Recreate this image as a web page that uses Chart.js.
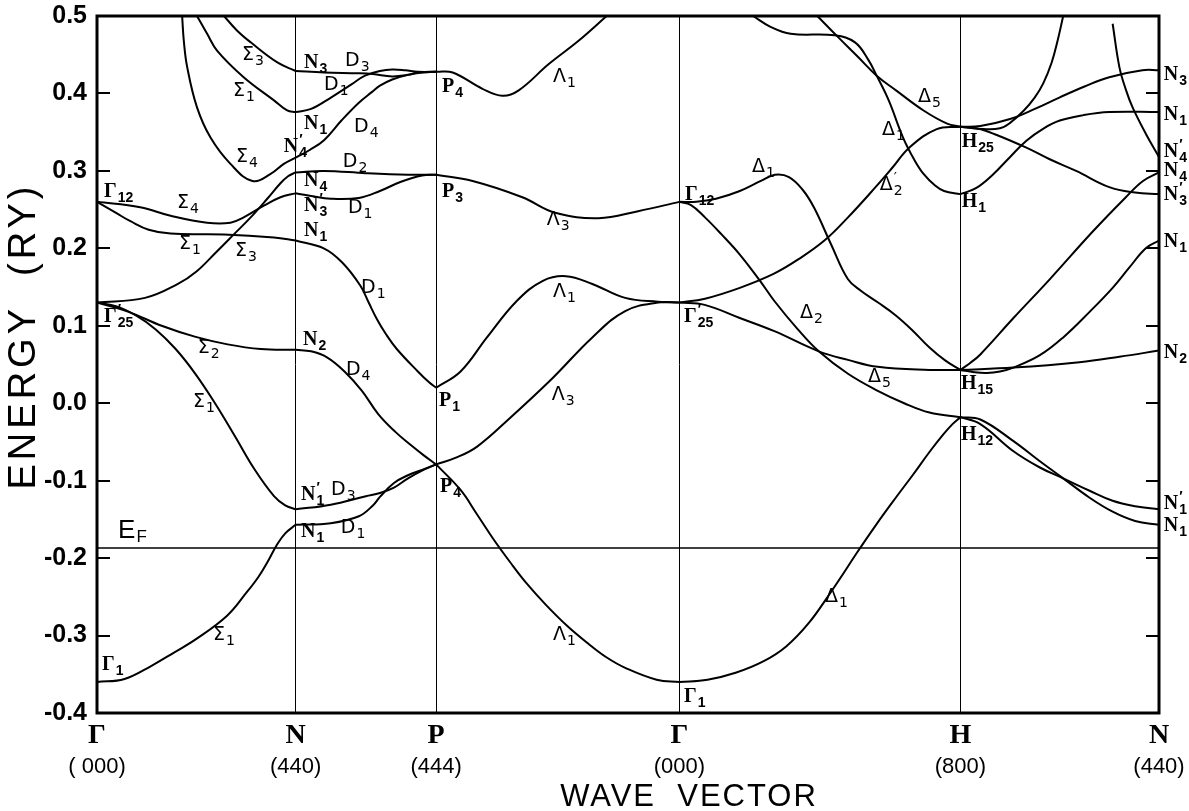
<!DOCTYPE html>
<html>
<head>
<meta charset="utf-8">
<script src="https://cdn.jsdelivr.net/npm/chart.js@4.4.1/dist/chart.umd.min.js"></script>
<style>
  html, body { margin: 0; padding: 0; background: #fff; }
</style>
</head>
<body>
<canvas id="bandChart" width="1189" height="811"></canvas>
<script>
// path through the zone: Γ - N - P - Γ - H - N
const symK = [0, 0.707, 1.207, 2.073, 3.073, 3.78];
const symNames = ['Γ', 'N', 'P', 'Γ', 'H', 'N'];
const symCoords = ['( 000)', '(440)', '(444)', '(000)', '(800)', '(440)'];
const energyTicks = [-0.4, -0.3, -0.2, -0.1, 0.0, 0.1, 0.2, 0.3, 0.4, 0.5];
const fermiEnergy = -0.187;

// Γ -> N  (Σ)
const gnSigma1Low = [[0,-0.36],[0.098,-0.356],[0.194,-0.339],[0.274,-0.322],[0.355,-0.304],[0.464,-0.274],[0.531,-0.245],[0.575,-0.224],[0.61,-0.203],[0.64,-0.183],[0.67,-0.168],[0.707,-0.157]];
const gnSigma1Mid = [[0,0.13],[0.07,0.125],[0.14,0.113],[0.21,0.095],[0.28,0.07],[0.35,0.038],[0.42,0.0],[0.49,-0.042],[0.56,-0.085],[0.63,-0.12],[0.67,-0.132],[0.707,-0.137]];
const gnSigma2 = [[0,0.13],[0.112,0.118],[0.23,0.1],[0.348,0.086],[0.465,0.076],[0.583,0.07],[0.707,0.069]];
const gnSigma3Low = [[0,0.13],[0.171,0.136],[0.288,0.154],[0.354,0.17],[0.424,0.195],[0.487,0.218],[0.547,0.24],[0.606,0.264],[0.653,0.284],[0.68,0.293],[0.707,0.298]];
const gnSigma4Low = [[0,0.26],[0.154,0.253],[0.262,0.242],[0.392,0.233],[0.475,0.233],[0.522,0.24],[0.594,0.255],[0.653,0.266],[0.707,0.271]];
const gnSigma1Flat = [[0,0.26],[0.071,0.245],[0.119,0.235],[0.184,0.224],[0.262,0.219],[0.452,0.218],[0.63,0.214],[0.707,0.21]];
const gnSigma4High = [[0.303,0.5],[0.309,0.468],[0.321,0.434],[0.356,0.382],[0.404,0.343],[0.475,0.309],[0.553,0.287],[0.618,0.296],[0.665,0.309],[0.707,0.317]];
const gnSigma1High = [[0.356,0.5],[0.392,0.477],[0.428,0.455],[0.522,0.421],[0.63,0.391],[0.677,0.378],[0.707,0.376]];
const gnSigma3High = [[0.452,0.5],[0.499,0.481],[0.547,0.466],[0.642,0.44],[0.707,0.429]];

// N -> P  (D)
const npD3Low = [[0.707,-0.137],[0.832,-0.131],[0.957,-0.12],[1.007,-0.116],[1.057,-0.109],[1.107,-0.097],[1.157,-0.087],[1.207,-0.079]];
const npD1Low = [[0.707,-0.157],[0.832,-0.155],[0.932,-0.146],[0.982,-0.132],[1.007,-0.121],[1.057,-0.103],[1.107,-0.093],[1.157,-0.086],[1.207,-0.079]];
const npD4Low = [[0.707,0.069],[0.762,0.067],[0.82,0.059],[0.881,0.041],[0.943,0.016],[1.001,-0.014],[1.062,-0.037],[1.117,-0.054],[1.162,-0.067],[1.207,-0.079]];
const npD1Mid = [[0.707,0.21],[0.807,0.2],[0.872,0.182],[0.937,0.152],[0.967,0.13],[0.997,0.108],[1.027,0.09],[1.067,0.07],[1.142,0.041],[1.182,0.027],[1.207,0.02]];
const npD1Up = [[0.707,0.271],[0.757,0.268],[0.832,0.264],[0.932,0.265],[1.007,0.274],[1.082,0.286],[1.157,0.294],[1.207,0.295]];
const npD2 = [[0.707,0.298],[0.807,0.3],[0.957,0.297],[1.107,0.295],[1.207,0.295]];
const npD4High = [[0.707,0.317],[0.757,0.327],[0.809,0.34],[0.87,0.365],[0.932,0.388],[0.979,0.402],[1.007,0.41],[1.051,0.418],[1.107,0.424],[1.157,0.427],[1.207,0.428]];
const npD1High = [[0.707,0.376],[0.762,0.38],[0.834,0.395],[0.907,0.412],[0.954,0.423],[1.007,0.429],[1.051,0.431],[1.097,0.43],[1.142,0.428],[1.207,0.428]];
const npD3High = [[0.707,0.429],[0.809,0.427],[0.932,0.426],[0.982,0.425],[1.051,0.422],[1.107,0.424],[1.142,0.427],[1.207,0.428]];

// P -> Γ  (Λ)
const pgLambda1Low = [[1.207,-0.079],[1.294,-0.112],[1.35,-0.142],[1.41,-0.175],[1.47,-0.205],[1.53,-0.233],[1.597,-0.26],[1.675,-0.288],[1.747,-0.31],[1.813,-0.328],[1.882,-0.342],[1.992,-0.357],[2.073,-0.36]];
const pgLambda3Low = [[1.207,-0.079],[1.28,-0.07],[1.353,-0.056],[1.47,-0.019],[1.623,0.033],[1.763,0.085],[1.88,0.119],[1.997,0.13],[2.073,0.13]];
const pgLambda1Mid = [[1.207,0.02],[1.294,0.041],[1.388,0.085],[1.494,0.132],[1.587,0.158],[1.669,0.164],[1.763,0.154],[1.88,0.136],[1.997,0.131],[2.073,0.13]];
const pgLambda3High = [[1.207,0.295],[1.337,0.287],[1.514,0.266],[1.631,0.246],[1.785,0.239],[1.926,0.248],[2.073,0.26]];
const pgLambda1High = [[1.207,0.428],[1.266,0.427],[1.372,0.406],[1.443,0.397],[1.501,0.404],[1.608,0.438],[1.714,0.468],[1.814,0.5]];

// Γ -> H  (Δ)
const ghDelta1Low = [[2.073,-0.36],[2.173,-0.357],[2.273,-0.348],[2.373,-0.333],[2.453,-0.314],[2.533,-0.284],[2.61,-0.245],[2.66,-0.218],[2.703,-0.194],[2.773,-0.157],[2.841,-0.123],[2.903,-0.093],[2.963,-0.063],[3.013,-0.04],[3.045,-0.027],[3.073,-0.018]];
const ghDelta2 = [[2.073,0.26],[2.113,0.256],[2.164,0.24],[2.223,0.218],[2.288,0.192],[2.36,0.158],[2.411,0.132],[2.493,0.096],[2.569,0.067],[2.673,0.038],[2.779,0.016],[2.873,0.0],[2.963,-0.012],[3.073,-0.018]];
const ghDelta5Low = [[2.073,0.13],[2.163,0.127],[2.288,0.11],[2.411,0.093],[2.569,0.067],[2.673,0.056],[2.779,0.047],[2.963,0.043],[3.073,0.043]];
const ghDelta1Mid = [[2.073,0.26],[2.133,0.26],[2.203,0.264],[2.288,0.274],[2.363,0.287],[2.413,0.295],[2.463,0.292],[2.513,0.275],[2.553,0.252],[2.613,0.205],[2.673,0.16],[2.72,0.145],[2.78,0.13],[2.841,0.114],[2.9,0.095],[2.963,0.072],[3.02,0.055],[3.073,0.043]];
const ghDelta2p = [[2.073,0.13],[2.164,0.135],[2.288,0.149],[2.408,0.167],[2.493,0.185],[2.589,0.21],[2.673,0.24],[2.771,0.279],[2.833,0.305],[2.891,0.33],[2.989,0.354],[3.073,0.357]];
const ghDelta1High = [[2.335,0.5],[2.397,0.486],[2.469,0.477],[2.626,0.475],[2.698,0.466],[2.746,0.443],[2.775,0.423],[2.818,0.391],[2.869,0.343],[2.908,0.315],[2.942,0.296],[2.983,0.281],[3.015,0.274],[3.073,0.27]];
const ghDelta5High = [[2.564,0.5],[2.637,0.473],[2.709,0.447],[2.775,0.423],[2.844,0.404],[2.942,0.378],[3.026,0.361],[3.073,0.357]];

// H -> N
const hnLowA = [[3.073,-0.018],[3.144,-0.021],[3.262,-0.049],[3.356,-0.075],[3.439,-0.097],[3.533,-0.122],[3.615,-0.14],[3.695,-0.152],[3.78,-0.157]];
const hnLowB = [[3.073,-0.018],[3.144,-0.027],[3.262,-0.062],[3.356,-0.083],[3.439,-0.097],[3.533,-0.113],[3.615,-0.126],[3.695,-0.133],[3.78,-0.137]];
const hnToN2 = [[3.073,0.043],[3.262,0.046],[3.497,0.053],[3.639,0.06],[3.78,0.068]];
const hnToN1 = [[3.073,0.043],[3.122,0.04],[3.167,0.039],[3.214,0.041],[3.262,0.046],[3.356,0.062],[3.439,0.085],[3.533,0.118],[3.615,0.149],[3.674,0.175],[3.733,0.2],[3.78,0.21]];
const hnToN4 = [[3.073,0.043],[3.108,0.052],[3.144,0.063],[3.262,0.11],[3.391,0.16],[3.545,0.222],[3.662,0.266],[3.723,0.287],[3.78,0.298]];
const hnFromH1 = [[3.073,0.27],[3.13,0.278],[3.191,0.296],[3.25,0.318],[3.308,0.339],[3.37,0.355],[3.427,0.365],[3.511,0.372],[3.603,0.376],[3.78,0.376]];
const hnToN3 = [[3.073,0.357],[3.144,0.358],[3.25,0.367],[3.338,0.38],[3.427,0.395],[3.515,0.409],[3.603,0.421],[3.721,0.43],[3.78,0.43]];
const hnToN3p = [[3.073,0.357],[3.13,0.355],[3.191,0.348],[3.308,0.33],[3.391,0.315],[3.485,0.3],[3.603,0.279],[3.695,0.272],[3.78,0.27]];
const hnSteep = [[3.073,0.357],[3.156,0.354],[3.214,0.355],[3.25,0.362],[3.299,0.378],[3.338,0.395],[3.368,0.413],[3.398,0.44],[3.419,0.468],[3.439,0.5]];
const hnToN4p = [[3.615,0.49],[3.639,0.434],[3.662,0.405],[3.686,0.382],[3.733,0.348],[3.78,0.318]];

// [letter, subscript, prime, k, E]
const bandLabels = [
  ['Σ','3',0,0.516,0.443], ['N','3',0,0.737,0.433], ['D','3',0,0.883,0.435],
  ['Σ','1',0,0.484,0.397], ['D','1',0,0.808,0.404], ['N','1',0,0.737,0.354],
  ['D','4',0,0.915,0.350], ['N','4',1,0.665,0.324], ['Σ','4',0,0.495,0.311],
  ['D','2',0,0.875,0.305], ['Γ','12',0,0.025,0.266], ['Σ','4',0,0.285,0.252],
  ['N','4',0,0.737,0.280], ['N','3',1,0.737,0.248], ['D','1',0,0.893,0.245],
  ['N','1',0,0.737,0.216], ['Σ','1',0,0.292,0.199], ['Σ','3',0,0.491,0.190],
  ['D','1',0,0.94,0.142], ['Γ','25',1,0.025,0.105], ['N','2',0,0.733,0.075],
  ['Σ','2',0,0.359,0.065], ['D','4',0,0.886,0.037], ['Σ','1',0,0.342,-0.005],
  ['N','1',1,0.726,-0.125], ['D','3',0,0.833,-0.119], ['N','1',0,0.726,-0.173],
  ['D','1',0,0.868,-0.168], ['Σ','1',0,0.413,-0.306], ['Γ','1',0,0.018,-0.345],
  ['P','4',0,1.228,0.402], ['P','3',0,1.228,0.266], ['P','1',0,1.217,-0.003],
  ['P','4',0,1.221,-0.115],
  ['Λ','1',0,1.623,0.415], ['Λ','3',0,1.601,0.230], ['Λ','1',0,1.623,0.137],
  ['Λ','3',0,1.619,0.004], ['Λ','1',0,1.623,-0.306],
  ['Γ','12',0,2.093,0.262], ['Γ','25',1,2.089,0.105], ['Γ','1',0,2.089,-0.386],
  ['Δ','1',0,2.331,0.298], ['Δ','5',0,2.922,0.389], ['Δ','1',0,2.794,0.346],
  ['Δ','2',1,2.786,0.275], ['Δ','2',0,2.502,0.110], ['Δ','5',0,2.744,0.027],
  ['Δ','1',0,2.591,-0.257],
  ['H','25',0,3.078,0.331], ['H','1',0,3.078,0.253], ['H','15',0,3.075,0.019],
  ['H','12',0,3.075,-0.048],
  ['N','3',0,3.797,0.417], ['N','1',0,3.797,0.366], ['N','4',1,3.797,0.318],
  ['N','4',0,3.797,0.293], ['N','3',1,3.797,0.262], ['N','1',0,3.797,0.202],
  ['N','2',0,3.797,0.059], ['N','1',1,3.797,-0.136], ['N','1',0,3.797,-0.165]
];
const fermiLabel = ['E', 'F', 0.075, -0.174];

const bands = [
  gnSigma1Low, gnSigma1Mid, gnSigma2, gnSigma3Low, gnSigma4Low, gnSigma1Flat, gnSigma4High, gnSigma1High, gnSigma3High,
  npD3Low, npD1Low, npD4Low, npD1Mid, npD1Up, npD2, npD4High, npD1High, npD3High,
  pgLambda1Low, pgLambda3Low, pgLambda1Mid, pgLambda3High, pgLambda1High,
  ghDelta1Low, ghDelta2, ghDelta5Low, ghDelta1Mid, ghDelta2p, ghDelta1High, ghDelta5High,
  hnLowA, hnLowB, hnToN2, hnToN1, hnToN4, hnFromH1, hnToN3, hnToN3p, hnSteep, hnToN4p
];

const datasets = bands.map(b => ({
  data: b,
  showLine: true,
  borderColor: '#000',
  borderWidth: 2,
  pointRadius: 0,
  tension: 0.4
}));
datasets.push({
  data: [[symK[0], fermiEnergy], [symK[symK.length - 1], fermiEnergy]],
  showLine: true,
  borderColor: '#000',
  borderWidth: 1.5,
  pointRadius: 0
});

function drawLabel(ctx, xs, ys, lab) {
  const [main, sub, prime, k, e] = lab;
  const px = xs.getPixelForValue(k);
  const py = ys.getPixelForValue(e);
  const serif = 'NPHΓ'.includes(main);
  ctx.font = serif ? 'bold 20px "Liberation Serif"' : '19px "DejaVu Sans"';
  ctx.fillText(main, px, py);
  const w = ctx.measureText(main).width;
  ctx.font = serif ? 'bold 14px "Liberation Sans"' : '14px "DejaVu Sans"';
  ctx.fillText(sub, px + w + 1, py + 5);
  if (prime) ctx.fillText('\u2032', px + w + 1, py - 8);
}

const decorations = {
  id: 'decorations',
  afterDraw(chart) {
    const { ctx, chartArea: a, scales: { x, y } } = chart;
    ctx.save();
    ctx.strokeStyle = '#000';
    ctx.fillStyle = '#000';

    // short inner ticks on both sides
    ctx.lineWidth = 2;
    energyTicks.forEach(v => {
      const py = Math.round(y.getPixelForValue(v));
      ctx.beginPath();
      ctx.moveTo(a.left, py); ctx.lineTo(a.left + 13, py);
      ctx.moveTo(a.right, py); ctx.lineTo(a.right - 13, py);
      ctx.stroke();
    });

    // frame
    ctx.lineWidth = 3;
    ctx.strokeRect(a.left, a.top, a.right - a.left, a.bottom - a.top);

    // symmetry point labels
    ctx.textAlign = 'center';
    ctx.textBaseline = 'alphabetic';
    symK.forEach((k, i) => {
      const px = x.getPixelForValue(k);
      ctx.font = 'bold 28px "Liberation Serif"';
      ctx.fillText(symNames[i], px, a.bottom + 30);
      ctx.font = '22px "Liberation Sans"';
      ctx.fillText(symCoords[i], px, a.bottom + 60);
    });

    // band labels
    ctx.textAlign = 'left';
    bandLabels.forEach(l => drawLabel(ctx, x, y, l));

    // Fermi level label
    const fx = x.getPixelForValue(fermiLabel[2]);
    const fy = y.getPixelForValue(fermiLabel[3]);
    ctx.font = '26px "Liberation Sans"';
    ctx.fillText(fermiLabel[0], fx, fy);
    const fw = ctx.measureText(fermiLabel[0]).width;
    ctx.font = '17px "Liberation Sans"';
    ctx.fillText(fermiLabel[1], fx + fw + 1, fy + 4);

    // axis titles
    ctx.textAlign = 'center';
    ctx.font = '31px "Liberation Sans"';
    ctx.letterSpacing = '2px';
    ctx.fillText('WAVE  VECTOR', 689, 806);
    ctx.translate(25, 336);
    ctx.rotate(-Math.PI / 2);
    ctx.textBaseline = 'middle';
    ctx.font = '38px "Liberation Sans"';
    ctx.letterSpacing = '4px';
    ctx.fillText('ENERGY  (RY)', 0, 0);
    ctx.restore();
  }
};

new Chart(document.getElementById('bandChart'), {
  type: 'scatter',
  data: { datasets: datasets },
  options: {
    responsive: false,
    animation: false,
    events: [],
    layout: { padding: { top: 16, right: 30, left: 0, bottom: 0 } },
    plugins: { legend: { display: false }, tooltip: { enabled: false } },
    scales: {
      x: {
        type: 'linear', min: 0, max: 3.78,
        afterBuildTicks: s => { s.ticks = symK.map(v => ({ value: v })); },
        afterFit: s => { s.height = 98; s.paddingLeft = 0; s.paddingRight = 0; },
        ticks: { display: false },
        grid: { color: '#000', lineWidth: 1, drawTicks: false },
        border: { display: false }
      },
      y: {
        type: 'linear', min: -0.4, max: 0.5,
        afterBuildTicks: s => { s.ticks = energyTicks.map(v => ({ value: v })); },
        afterFit: s => { s.width = 97; s.paddingTop = 0; s.paddingBottom = 0; },
        ticks: {
          color: '#000',
          padding: 10,
          font: { family: 'Liberation Sans', size: 25, weight: 'bold' },
          callback: v => v.toFixed(1)
        },
        grid: { display: false, drawTicks: false },
        border: { display: false }
      }
    }
  },
  plugins: [decorations]
});
</script>
</body>
</html>
